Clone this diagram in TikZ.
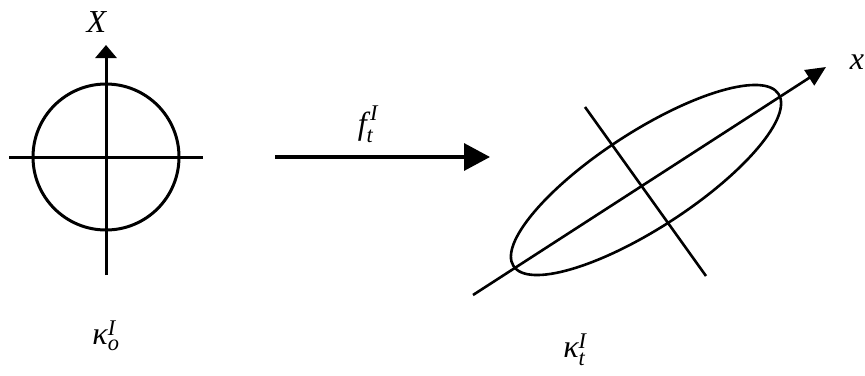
\documentclass[tikz,border=0pt]{standalone}
\usepackage{amsmath}
\usepackage{fontspec}
\setmainfont{Liberation Serif}
\usetikzlibrary{arrows.meta}
\newcommand{\ti}[1]{\textit{#1}}
\begin{document}
\begin{tikzpicture}[x=1pt,y=-1pt,
  axisline/.style={line width=3pt},
  outline/.style={line width=3pt},
  thinline/.style={line width=2.6pt},
  lbl/.style={inner sep=0pt,font=\fontsize{32}{34}\selectfont}]
\useasboundingbox (0,0) rectangle (865,375);
% left: circle
\coordinate (c0) at (106,157);
\coordinate (hl) at (9,157);
\coordinate (hr) at (203,157);
\coordinate (vb) at (106,275);
\coordinate (vt) at (106,45);
\draw[outline] (c0) circle (73);
\draw[axisline] (hl) -- (hr);
\draw[axisline,-{Triangle[length=13pt,width=21pt]}] (vb) -- (vt);
\node[lbl] (X) at (97,22) {\ti{X}};
\node[lbl] (k0) at (106,336) {$\ti{κ}_{\ti{o}}^{\ti{I}}$};
% middle arrow
\coordinate (ma) at (275,157);
\coordinate (mb) at (490,157);
\draw[line width=3.4pt,-{Triangle[length=26pt,width=27pt]}] (ma) -- (mb);
\node[lbl] (f) at (368,124) {$\ti{f}_{\ti{t}}^{\,\ti{I}}$};
% right: ellipse
\coordinate (c1) at (646,180);
\draw[thinline,rotate around={33:(c1)}] (c1) ellipse (158 and 48);
\coordinate (xa) at (473,295);
\coordinate (xb) at (826,67);
\draw[thinline,-{Triangle[length=20pt,width=18pt]}] (xa) -- (xb);
\coordinate (ya) at (585,107);
\coordinate (yb) at (706,276);
\draw[thinline] (ya) -- (yb);
\node[lbl] (x) at (857,62) {\ti{x}};
\node[lbl] (k1) at (575,350) {$\ti{κ}_{\ti{t}}^{\ti{I}}$};
\end{tikzpicture}
\end{document}
